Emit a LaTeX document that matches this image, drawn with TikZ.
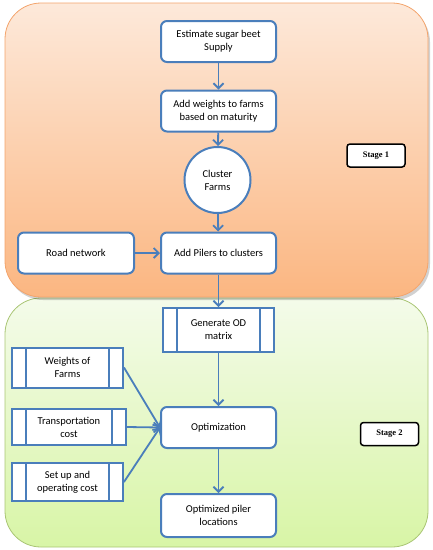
\documentclass[tikz,border=0pt]{standalone}
\usepackage{fontspec}
\setmainfont{Carlito}
\newfontfamily\stagefont{Liberation Serif}
\usetikzlibrary{arrows.meta,shadows}
\definecolor{bl}{HTML}{4A7EBB}
\definecolor{ortop}{HTML}{FDE9DA}
\definecolor{orbot}{HTML}{FBB681}
\definecolor{orline}{HTML}{F3A46C}
\definecolor{grtop}{HTML}{F4FBEA}
\definecolor{grbot}{HTML}{D8F5A6}
\definecolor{grline}{HTML}{A9C574}
\begin{document}
\begin{tikzpicture}[x=1pt,y=-1pt,
  txt/.style={font=\fontsize{10.5}{13}\selectfont, align=center},
  box/.style={txt, draw=bl, line width=2pt, fill=white, rounded corners=6pt,
    minimum width=115pt, minimum height=41pt, inner sep=2pt},
  proc/.style={txt, draw=bl, line width=2pt, fill=white, inner sep=2pt,
    path picture={
      \draw[bl, line width=2pt]
        ([xshift=14pt]path picture bounding box.north west) --
        ([xshift=14pt]path picture bounding box.south west)
        ([xshift=-14pt]path picture bounding box.north east) --
        ([xshift=-14pt]path picture bounding box.south east);}},
  circ/.style={txt, draw=bl, line width=2pt, fill=white, circle,
    minimum size=66pt, inner sep=0pt},
  arr/.style={draw=bl, line width=1.8pt, -{Straight Barb[length=5pt,width=10pt,line width=1.8pt]}},
  stagebox/.style={draw=black, line width=1.5pt, rounded corners=3pt, fill=white,
    font=\stagefont\bfseries\fontsize{8.5}{10}\selectfont,
    minimum width=58pt, minimum height=23pt, inner sep=1pt}]
\useasboundingbox (0,0) rectangle (433,550);

% stage panels
\shade[top color=grtop, bottom color=grbot, draw=grline, line width=0.8pt,
  rounded corners=36pt] (5,298) rectangle (428,547);
\fill[black, opacity=0.18, rounded corners=36pt] (7,6) rectangle (430,300);
\shade[top color=ortop, bottom color=orbot, draw=orline, line width=0.8pt,
  rounded corners=36pt] (5,3) rectangle (428,297);

% stage 1 nodes
\node[box] (est) at (218.5,41.5) {Estimate sugar beet\\Supply};
\node[box] (wts) at (218.5,111) {Add weights to farms\\based on maturity};
\node[circ] (clu) at (217.5,180) {Cluster\\Farms};
\node[box] (pil) at (218.5,253) {Add Pilers to clusters};
\node[box, minimum width=116pt] (road) at (76,253) {Road network};
\node[stagebox] (s1) at (376,155.5) {Stage 1};

% stage 2 nodes
\node[proc, minimum width=111pt, minimum height=44pt] (od) at (218.5,330) {Generate OD\\matrix};
\node[proc, minimum width=111pt, minimum height=40pt] (wf) at (67.5,367.5) {Weights of\\Farms};
\node[proc, minimum width=114pt, minimum height=36pt] (tc) at (69,427) {Transportation\\cost};
\node[proc, minimum width=111pt, minimum height=38pt] (su) at (67.5,482) {Set up and\\operating cost};
\node[box] (opt) at (218.5,427.5) {Optimization};
\node[box, minimum height=43pt] (res) at (218.5,515.5) {Optimized piler\\locations};
\node[stagebox] (s2) at (389.5,434) {Stage 2};

% connectors
\draw[arr] (est) -- (wts);
\draw[arr] (wts) -- (clu);
\draw[arr] (clu) -- (pil);
\draw[arr] (road) -- (pil);
\draw[arr] (pil) -- (od);
\draw[arr] (od) -- (opt);
\draw[arr] (wf.east) -- (opt.west);
\draw[arr] (tc.east) -- (opt.west);
\draw[arr] (su.east) -- (opt.west);
\draw[arr] (opt) -- (res);
\end{tikzpicture}
\end{document}
